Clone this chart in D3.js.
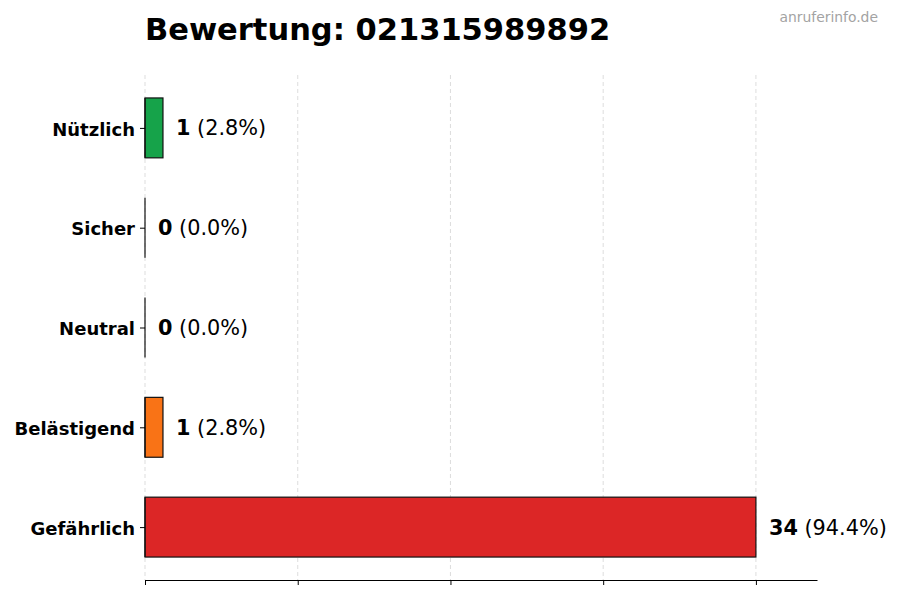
<!DOCTYPE html>
<html>
<head>
<meta charset="utf-8">
<script src="https://cdn.jsdelivr.net/npm/d3@7"></script>
<style>
  body { margin: 0; background: #fff; }
  text { font-family: "DejaVu Sans", sans-serif; }
</style>
</head>
<body>
<div id="chart"></div>
<script>
// data
const categories = ["Nützlich", "Sicher", "Neutral", "Belästigend", "Gefährlich"];
const counts = [1, 0, 0, 1, 34];
const percents = ["2.8", "0.0", "0.0", "2.8", "94.4"];
const barColors = ["#16a34a", "#6b7280", "#6b7280", "#f97316", "#dc2626"];
const xTicks = [0, 8.5, 17, 25.5, 34];
const titleText = "Bewertung: 021315989892";
const watermark = "anruferinfo.de";

const width = 900, height = 600;
const margin = {top: 75, right: 83, bottom: 20, left: 145};
const innerW = width - margin.left - margin.right,
    innerH = height - margin.top - margin.bottom;

const svg = d3.select("#chart")
    .append("svg")
    .attr("width", width)
    .attr("height", height);

const body = svg.append("g")
    .attr("transform", "translate(" + margin.left + "," + margin.top + ")");

const x = d3.scaleLinear()
    .domain([0, d3.max(counts) * 1.1])
    .range([0, innerW]);

// categories go top to bottom, index as numeric position like barh
const y = d3.scaleLinear()
    .domain([-0.53, categories.length - 1 + 0.53])
    .range([0, innerH]);
const barH = y(0.3) - y(-0.3);

// grid
body.append("g")
    .selectAll("line")
    .data(xTicks)
    .enter()
    .append("line")
    .attr("x1", d => x(d))
    .attr("x2", d => x(d))
    .attr("y1", 0)
    .attr("y2", innerH)
    .attr("stroke", "#d4d4d4")
    .attr("stroke-width", 0.8)
    .attr("stroke-dasharray", "4,3");

// bars
body.append("g")
    .selectAll("rect")
    .data(counts)
    .enter()
    .append("rect")
    .attr("x", x(0))
    .attr("y", (d, i) => y(i) - barH / 2)
    .attr("width", d => x(d) - x(0))
    .attr("height", barH)
    .attr("fill", (d, i) => barColors[i])
    .attr("stroke", "#111")
    .attr("stroke-width", 1.2);

// zero-width bars still show their edge
body.append("g")
    .selectAll("line")
    .data(counts)
    .enter()
    .append("line")
    .attr("x1", x(0))
    .attr("x2", x(0))
    .attr("y1", (d, i) => y(i) - barH / 2)
    .attr("y2", (d, i) => y(i) + barH / 2)
    .attr("stroke", "#111")
    .attr("stroke-width", 1.2);

// value labels
const labels = body.append("g")
    .selectAll("text")
    .data(counts)
    .enter()
    .append("text")
    .attr("x", d => x(d) + 13)
    .attr("y", (d, i) => y(i))
    .attr("dy", "0.36em")
    .attr("font-size", 20.8)
    .attr("fill", "#000");
labels.append("tspan")
    .attr("font-weight", "bold")
    .text(d => d);
labels.append("tspan")
    .text((d, i) => " (" + percents[i] + "%)");

// x axis, ticks only
const xAxis = body.append("g")
    .attr("transform", "translate(0," + innerH + ")")
    .call(d3.axisBottom(x).tickValues(xTicks).tickFormat("").tickSize(5).tickSizeOuter(0));
xAxis.select(".domain").attr("stroke", "#000").attr("stroke-width", 1.2);
xAxis.selectAll(".tick line").attr("stroke", "#000").attr("stroke-width", 1);

// y axis labels and ticks
const yAxis = body.append("g")
    .call(d3.axisLeft(y).tickValues(d3.range(categories.length))
        .tickFormat(i => categories[i]).tickSize(5).tickPadding(5).tickSizeOuter(0));
yAxis.select(".domain").remove();
yAxis.selectAll(".tick line").attr("stroke", "#000");
yAxis.selectAll(".tick text")
    .attr("font-family", "DejaVu Sans, sans-serif")
    .attr("font-size", 18)
    .attr("font-weight", "bold")
    .attr("dy", "0.4em")
    .attr("fill", "#000");

// title
svg.append("text")
    .attr("x", margin.left)
    .attr("y", 40)
    .attr("font-size", 30.5)
    .attr("font-weight", "bold")
    .attr("fill", "#000")
    .text(titleText);

svg.append("text")
    .attr("x", 878)
    .attr("y", 22)
    .attr("text-anchor", "end")
    .attr("font-size", 13.9)
    .attr("fill", "#a3a3a3")
    .text(watermark);
</script>
</body>
</html>
